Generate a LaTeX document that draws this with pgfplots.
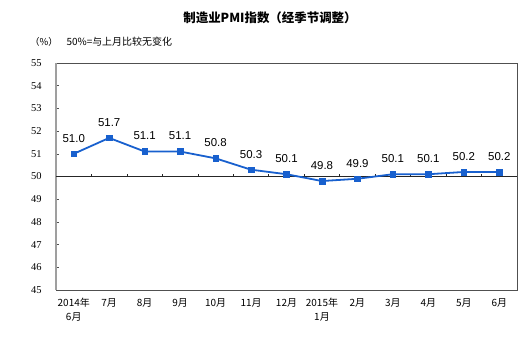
\documentclass[border=0pt]{standalone}
\usepackage{pgfplots}
\pgfplotsset{compat=1.18}
\usepackage{fontspec}
\setmainfont{Liberation Serif}
\newfontfamily\cjk{Noto Sans CJK SC}
\newfontfamily\arial{Liberation Sans}
\definecolor{pmiblue}{RGB}{24,96,206}
\definecolor{framegray}{RGB}{80,80,80}
\begin{document}
\begin{tikzpicture}[x=1bp,y=1bp]
\useasboundingbox (0,0) rectangle (520,340);
\node[font=\cjk\bfseries\fontsize{12.5}{14}\selectfont] at (270,322) {制造业PMI指数（经季节调整）};
\node[font=\cjk\fontsize{9.5}{11}\selectfont] at (44,298) {（\%）};
\node[font=\cjk\fontsize{10}{12}\selectfont, anchor=west] at (63,298) {50\%=与上月比较无变化};
\begin{axis}[at={(56bp,50bp)}, anchor=south west, scale only axis,
  width=461bp, height=227bp,
  xmin=-0.5, xmax=12.5, ymin=45, ymax=55,
  clip=false,
  /pgf/number format/assume math mode=true,
  xtick={0,...,12},
  xticklabels={{2014年\\6月},7月,8月,9月,10月,11月,12月,{2015年\\1月},2月,3月,4月,5月,6月},
  ytick={45,...,55},
  ytick pos=left,
  tick align=inside,
  x tick style={draw=none},
  y tick style={framegray, line width=0.6bp},
  major tick length=3bp,
  xticklabel style={font=\cjk\fontsize{10}{14}\selectfont, align=center, anchor=north, yshift=-5bp},
  yticklabel style={font=\fontsize{10.5}{12}\selectfont, anchor=east, xshift=-11bp},
  axis line style={framegray, line width=0.8bp},
  nodes near coords,
  nodes near coords style={font=\arial\fontsize{11.5}{12}\selectfont, black, anchor=south, yshift=8bp,
    /pgf/number format/.cd, fixed, fixed zerofill, precision=1},
]
\draw[gray!75, line width=2bp] (axis cs:-0.5,45) -- (axis cs:-0.5,55);
\draw[black!85, line width=0.8bp] (axis cs:-0.5,50) -- (axis cs:12.5,50);
\pgfplotsinvokeforeach{0.5,1.5,2.5,3.5,4.5,5.5,6.5,7.5,8.5,9.5,10.5,11.5}{
  \draw[black!85, line width=0.6bp] (axis cs:#1,50) -- ++(0bp,3bp);
}
\addplot[pmiblue, line width=1.8bp, mark=square*, mark size=2.8bp,
  mark options={fill=pmiblue, draw=pmiblue, line width=0.5bp}]
  coordinates {
  (0,51.0) (1,51.7) (2,51.1) (3,51.1) (4,50.8) (5,50.3) (6,50.1)
  (7,49.8) (8,49.9) (9,50.1) (10,50.1) (11,50.2) (12,50.2)
  };
\end{axis}
\end{tikzpicture}
\end{document}
